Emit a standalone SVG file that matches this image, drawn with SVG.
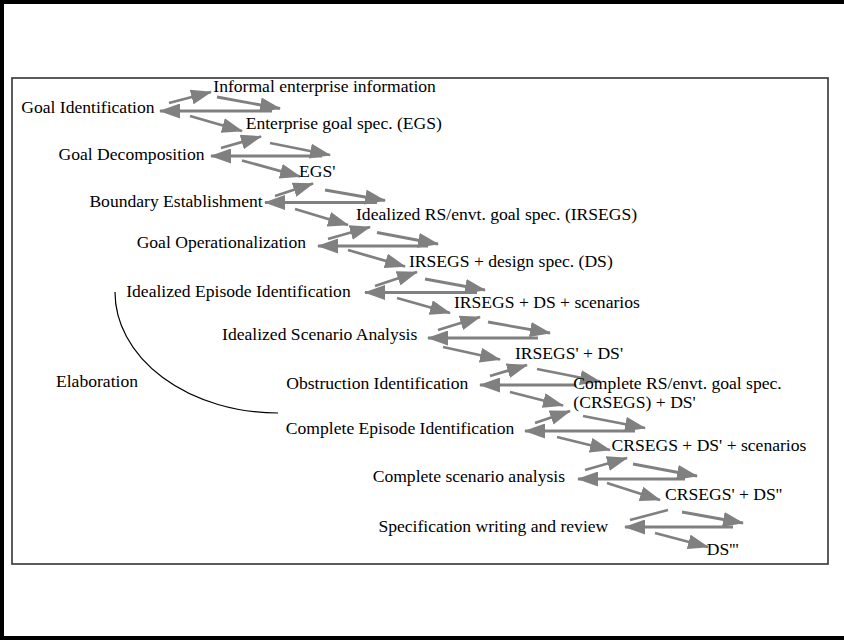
<svg xmlns="http://www.w3.org/2000/svg" width="844" height="640" viewBox="0 0 844 640">
<style>
.t{font-family:"Liberation Serif","Times New Roman",serif;font-size:16px;fill:#000}
.e{text-anchor:end}
.c line{stroke:#808080;stroke-width:2.8;fill:none}
.h{marker-end:url(#ah)}
</style>
<defs>
<marker id="ah" markerUnits="userSpaceOnUse" viewBox="0 0 21 15" refX="20" refY="7.5" markerWidth="21" markerHeight="15" orient="auto">
<path d="M0,0 L21,7.5 L0,15 z" fill="#808080"/>
</marker>
</defs>
<rect x="0" y="0" width="844" height="640" fill="#fff"/>
<rect x="2" y="2" width="900" height="636" fill="none" stroke="#000" stroke-width="4"/>
<rect x="12" y="78" width="816" height="486" fill="none" stroke="#333" stroke-width="1.6"/>

<g class="c" id="connectors">
<line class="h" x1="169" y1="103" x2="211" y2="92"/>
<line class="h" x1="217" y1="97" x2="280" y2="108.5"/>
<line class="h" x1="272" y1="111" x2="160" y2="111"/>
<line class="h" x1="190" y1="116" x2="242" y2="131"/>

<line class="h" x1="221" y1="148" x2="261" y2="136.5"/>
<line class="h" x1="270" y1="143" x2="330" y2="155"/>
<line class="h" x1="322" y1="156" x2="211" y2="156"/>
<line class="h" x1="242" y1="160.5" x2="300" y2="176.5"/>

<line class="h" x1="275" y1="196" x2="313" y2="183.5"/>
<line class="h" x1="325" y1="190" x2="385" y2="200.5"/>
<line class="h" x1="377" y1="202.5" x2="265" y2="202.5"/>
<line class="h" x1="295" y1="209" x2="348" y2="225"/>

<line class="h" x1="328" y1="239" x2="370" y2="227"/>
<line class="h" x1="377" y1="232.5" x2="438" y2="244"/>
<line class="h" x1="428" y1="246" x2="318" y2="246"/>
<line class="h" x1="348" y1="250" x2="405" y2="266.5"/>

<line class="h" x1="375" y1="286" x2="417" y2="272"/>
<line class="h" x1="425" y1="279" x2="485" y2="290"/>
<line class="h" x1="477" y1="292.5" x2="365" y2="292.5"/>
<line class="h" x1="397" y1="298" x2="450" y2="313"/>

<line class="h" x1="438" y1="330" x2="480" y2="317"/>
<line class="h" x1="488" y1="322" x2="550" y2="333"/>
<line class="h" x1="538" y1="338" x2="428" y2="338"/>
<line class="h" x1="443" y1="347" x2="500" y2="359.5"/>

<line class="h" x1="490" y1="376" x2="527" y2="365"/>
<line class="h" x1="537" y1="369" x2="600" y2="381.5"/>
<line class="h" x1="575" y1="385" x2="480" y2="385"/>
<line class="h" x1="510" y1="392" x2="563" y2="405.5"/>

<line class="h" x1="535" y1="423" x2="570" y2="411"/>
<line class="h" x1="583" y1="416" x2="645" y2="428"/>
<line class="h" x1="635" y1="431" x2="525" y2="431"/>
<line class="h" x1="557" y1="437" x2="610" y2="450"/>

<line class="h" x1="585" y1="470" x2="627" y2="458"/>
<line class="h" x1="633" y1="464" x2="697" y2="476"/>
<line class="h" x1="685" y1="479" x2="578" y2="479"/>
<line class="h" x1="607" y1="483" x2="660" y2="500"/>

<line x1="630" y1="520" x2="668" y2="510"/>
<line class="h" x1="682" y1="512" x2="743" y2="523"/>
<line class="h" x1="733" y1="527" x2="625" y2="527"/>
<line class="h" x1="655" y1="533" x2="708" y2="547"/>
</g>

<g id="elaboration">
<path d="M115,292 A163,121 0 0 0 278,413" fill="none" stroke="#000" stroke-width="1.2"/>
<text class="t" transform="translate(56,387.3) scale(1.1,1)">Elaboration</text>
</g>

<g id="p1"><text class="t e" transform="translate(154.5,112.7) scale(1.1,1)">Goal Identification</text></g>
<g id="p2"><text class="t e" transform="translate(204.5,159.5) scale(1.1,1)">Goal Decomposition</text></g>
<g id="p3"><text class="t e" transform="translate(262.7,206.7) scale(1.1,1)">Boundary Establishment</text></g>
<g id="p4"><text class="t e" transform="translate(306,248.3) scale(1.1,1)">Goal Operationalization</text></g>
<g id="p5"><text class="t e" transform="translate(350.7,297.3) scale(1.1,1)">Idealized Episode Identification</text></g>
<g id="p6"><text class="t e" transform="translate(417.3,340) scale(1.1,1)">Idealized Scenario Analysis</text></g>
<g id="p7"><text class="t e" transform="translate(468.3,389.3) scale(1.1,1)">Obstruction Identification</text></g>
<g id="p8"><text class="t e" transform="translate(514.3,434) scale(1.1,1)">Complete Episode Identification</text></g>
<g id="p9"><text class="t e" transform="translate(565,481.7) scale(1.1,1)">Complete scenario analysis</text></g>
<g id="p10"><text class="t e" transform="translate(608.3,531.7) scale(1.1,1)">Specification writing and review</text></g>

<g id="d0"><text class="t" transform="translate(213.3,91.7) scale(1.1,1)">Informal enterprise information</text></g>
<g id="d1"><text class="t" transform="translate(245.7,129) scale(1.1,1)">Enterprise goal spec. (EGS)</text></g>
<g id="d2"><text class="t" transform="translate(299,177.3) scale(1.1,1)">EGS'</text></g>
<g id="d3"><text class="t" transform="translate(356,220) scale(1.1,1)">Idealized RS/envt. goal spec. (IRSEGS)</text></g>
<g id="d4"><text class="t" transform="translate(409,267) scale(1.1,1)">IRSEGS + design spec. (DS)</text></g>
<g id="d5"><text class="t" transform="translate(454,308.3) scale(1.1,1)">IRSEGS + DS + scenarios</text></g>
<g id="d6"><text class="t" transform="translate(515,358.7) scale(1.1,1)">IRSEGS' + DS'</text></g>
<g id="d7">
<text class="t" transform="translate(573.3,389.3) scale(1.1,1)">Complete RS/envt. goal spec.</text>
<text class="t" transform="translate(573.3,408.3) scale(1.1,1)">(CRSEGS) + DS'</text>
</g>
<g id="d8"><text class="t" transform="translate(611.5,451) scale(1.1,1)">CRSEGS + DS' + scenarios</text></g>
<g id="d9"><text class="t" transform="translate(665,500) scale(1.1,1)">CRSEGS' + DS''</text></g>
<g id="d10"><text class="t" transform="translate(706.7,555) scale(1.1,1)">DS'''</text></g>
</svg>
